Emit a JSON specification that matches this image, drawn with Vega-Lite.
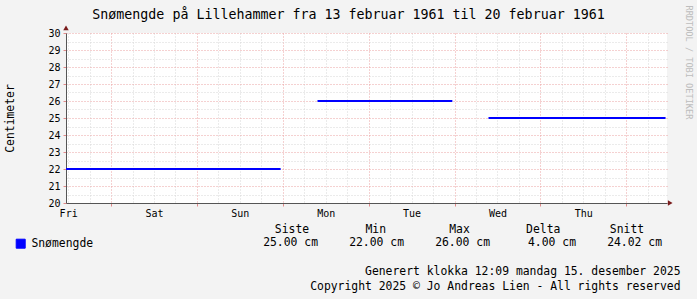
{
  "$schema": "https://vega.github.io/schema/vega-lite/v6.json",
  "autosize": {"type": "none"},
  "padding": {"left": 66, "top": 33, "right": 30, "bottom": 96},
  "width": 601,
  "height": 170,
  "background": "#F3F3F3",
  "config": {
    "view": {"fill": "#FFFFFF", "stroke": null},
    "font": "DejaVu Sans Mono",
    "legend": {"labelFont": "DejaVu Sans Mono"}
  },
  "title": {
    "text": "Snømengde på Lillehammer fra 13 februar 1961 til 20 februar 1961",
    "font": "DejaVu Sans Mono",
    "fontSize": 13.3,
    "fontWeight": "normal",
    "color": "#000000",
    "anchor": "middle",
    "frame": "group",
    "dx": -18,
    "baseline": "alphabetic",
    "offset": 0,
    "dy": 27
  },
  "resolve": {"scale": {"x": "independent", "y": "independent"}},
  "layer": [
    {
      "resolve": {"axis": {"x": "independent", "y": "independent"}},
      "layer": [
        {
          "data": {
            "values": [
              {"seg": 1, "hour": 0, "cm": 22, "series": "Snømengde"},
              {"seg": 1, "hour": 60, "cm": 22, "series": "Snømengde"},
              {"seg": 2, "hour": 70.3, "cm": 26, "series": "Snømengde"},
              {"seg": 2, "hour": 108, "cm": 26, "series": "Snømengde"},
              {"seg": 3, "hour": 118.1, "cm": 25, "series": "Snømengde"},
              {"seg": 3, "hour": 167.6, "cm": 25, "series": "Snømengde"}
            ]
          },
          "mark": {"type": "line", "strokeWidth": 2, "interpolate": "linear"},
          "encoding": {
            "x": {
              "field": "hour",
              "type": "quantitative",
              "scale": {"domain": [0, 168], "nice": false, "zero": false},
              "axis": {
                "values": [0.6, 6.6, 12.6, 18.6, 24.6, 30.6, 36.6, 42.6, 48.6, 54.6, 60.6, 66.6, 72.6, 78.6, 84.6, 90.6, 96.6, 102.6, 108.6, 114.6, 120.6, 126.6, 132.6, 138.6, 144.6, 150.6, 156.6, 162.6],
                "labelExpr": "round((datum.value - 0.6) / 6) % 4 == 0 ? ['Fri','Sat','Sun','Mon','Tue','Wed','Thu'][round((datum.value - 0.6) / 24)] : ''",
                "labelFont": "DejaVu Sans Mono",
                "labelFontSize": 10,
                "labelColor": "#000000",
                "labelPadding": 2,
                "labelFlush": false,
                "labelOverlap": false,
                "grid": true,
                "gridColor": {"condition": {"test": "round((datum.value - 0.6) / 6) % 4 == 2", "value": "#EBA3A3"}, "value": "#D6D6D6"},
                "gridDash": [1, 2],
                "gridWidth": 1,
                "domainColor": "#555555",
                "domainWidth": 1,
                "tickColor": {"condition": {"test": "round((datum.value - 0.6) / 6) % 4 == 2", "value": "#E08A8A"}, "value": "transparent"},
                "tickSize": 3,
                "title": ["Generert klokka 12:09 mandag 15. desember 2025", "Copyright 2025 © Jo Andreas Lien - All rights reserved"],
                "titleFont": "DejaVu Sans Mono",
                "titleFontSize": 11.4,
                "titleFontWeight": "normal",
                "titleColor": "#000000",
                "titleAlign": "right",
                "titleBaseline": "alphabetic",
                "titleX": 614,
                "titleY": 71,
                "titleLineHeight": 15
              }
            },
            "y": {
              "field": "cm",
              "type": "quantitative",
              "scale": {"domain": [20, 30], "nice": false, "zero": false},
              "axis": {
                "values": [20, 20.5, 21, 21.5, 22, 22.5, 23, 23.5, 24, 24.5, 25, 25.5, 26, 26.5, 27, 27.5, 28, 28.5, 29, 29.5, 30],
                "labelExpr": "datum.value % 1 == 0 ? format(datum.value, 'd') : ''",
                "labelFont": "DejaVu Sans Mono",
                "labelFontSize": 10,
                "labelColor": "#000000",
                "labelPadding": 3,
                "grid": true,
                "gridColor": {"condition": {"test": "datum.value % 1 == 0", "value": "#EBA3A3"}, "value": "#D6D6D6"},
                "gridDash": [1, 2],
                "gridWidth": 1,
                "domainColor": "#555555",
                "domainWidth": 1,
                "tickColor": {"condition": {"test": "datum.value % 1 == 0", "value": "#E08A8A"}, "value": "transparent"},
                "tickSize": 3,
                "title": "Centimeter",
                "titleFont": "DejaVu Sans Mono",
                "titleFontSize": 11.4,
                "titleFontWeight": "normal",
                "titleColor": "#000000",
                "titleAngle": -90,
                "titleAlign": "center",
                "titleBaseline": "middle",
                "titleX": -56,
                "titleY": 85
              }
            },
            "detail": {"field": "seg", "type": "nominal"},
            "color": {
              "field": "series",
              "type": "nominal",
              "scale": {"range": ["#0000FF"]},
              "legend": {
                "orient": "none",
                "legendX": -51,
                "legendY": 205,
                "title": null,
                "padding": 0,
                "symbolType": "square",
                "symbolSize": 81,
                "labelFont": "DejaVu Sans Mono",
                "labelFontSize": 11.4,
                "labelColor": "#000000",
                "labelOffset": 5,
                "encode": {
                  "symbols": {
                    "update": {
                      "fill": {"value": "#0000FF"},
                      "stroke": {"value": "#000000"},
                      "strokeWidth": {"value": 1},
                      "opacity": {"value": 1}
                    }
                  },
                  "labels": {
                    "update": {
                      "font": {"value": "DejaVu Sans Mono"},
                      "fontSize": {"value": 11.4}
                    }
                  }
                }
              }
            }
          }
        },
        {
          "data": {"values": [{}]},
          "mark": {"type": "point", "shape": "triangle-up", "filled": true, "size": 30, "color": "#7A1C1C", "opacity": 1},
          "encoding": {
            "x": {"datum": 0, "type": "quantitative", "scale": {"domain": [0, 168], "nice": false, "zero": false}, "axis": null},
            "y": {
              "datum": 30.3,
              "type": "quantitative",
              "scale": {"domain": [20, 30], "nice": false, "zero": false},
              "axis": {
                "orient": "right",
                "domain": false,
                "ticks": false,
                "labels": false,
                "grid": false,
                "title": "RRDTOOL / TOBI OETIKER",
                "titleFont": "DejaVu Sans Mono",
                "titleFontSize": 8.6,
                "titleFontWeight": "normal",
                "titleColor": "#BDBDBD",
                "titleAngle": 90,
                "titleAlign": "left",
                "titleBaseline": "middle",
                "titleX": 21,
                "titleY": -28
              }
            }
          }
        },
        {
          "data": {"values": [{}]},
          "mark": {"type": "point", "shape": "triangle-right", "filled": true, "size": 30, "color": "#7A1C1C", "opacity": 1},
          "encoding": {
            "x": {"datum": 168.9, "type": "quantitative", "scale": {"domain": [0, 168], "nice": false, "zero": false}, "axis": null},
            "y": {"datum": 20, "type": "quantitative", "scale": {"domain": [20, 30], "nice": false, "zero": false}, "axis": null}
          }
        }
      ]
    },
    {
      "data": {
        "values": [
          {"col": "Siste", "row": "hdr"},
          {"col": "Min", "row": "hdr"},
          {"col": "Max", "row": "hdr"},
          {"col": "Delta", "row": "hdr"},
          {"col": "Snitt", "row": "hdr"}
        ]
      },
      "mark": {"type": "text", "font": "DejaVu Sans Mono", "fontSize": 11.4, "color": "#000000", "align": "center", "baseline": "middle"},
      "encoding": {
        "text": {"field": "col"},
        "x": {"field": "col", "type": "ordinal", "scale": {"type": "point", "padding": 0, "domain": ["Siste", "Min", "Max", "Delta", "Snitt"], "range": [226, 561]}, "axis": null},
        "y": {"field": "row", "type": "ordinal", "scale": {"type": "point", "padding": 0, "domain": ["hdr"], "range": [197, 197]}, "axis": null}
      }
    },
    {
      "data": {
        "values": [
          {"col": "Siste", "row": "val", "text": "25.00 cm"},
          {"col": "Min", "row": "val", "text": "22.00 cm"},
          {"col": "Max", "row": "val", "text": "26.00 cm"},
          {"col": "Delta", "row": "val", "text": "4.00 cm"},
          {"col": "Snitt", "row": "val", "text": "24.02 cm"}
        ]
      },
      "mark": {"type": "text", "font": "DejaVu Sans Mono", "fontSize": 11.4, "color": "#000000", "align": "right", "baseline": "middle"},
      "encoding": {
        "text": {"field": "text"},
        "x": {"field": "col", "type": "ordinal", "scale": {"type": "point", "padding": 0, "domain": ["Siste", "Min", "Max", "Delta", "Snitt"], "range": [252, 596]}, "axis": null},
        "y": {"field": "row", "type": "ordinal", "scale": {"type": "point", "padding": 0, "domain": ["val"], "range": [210, 210]}, "axis": null}
      }
    }
  ]
}
